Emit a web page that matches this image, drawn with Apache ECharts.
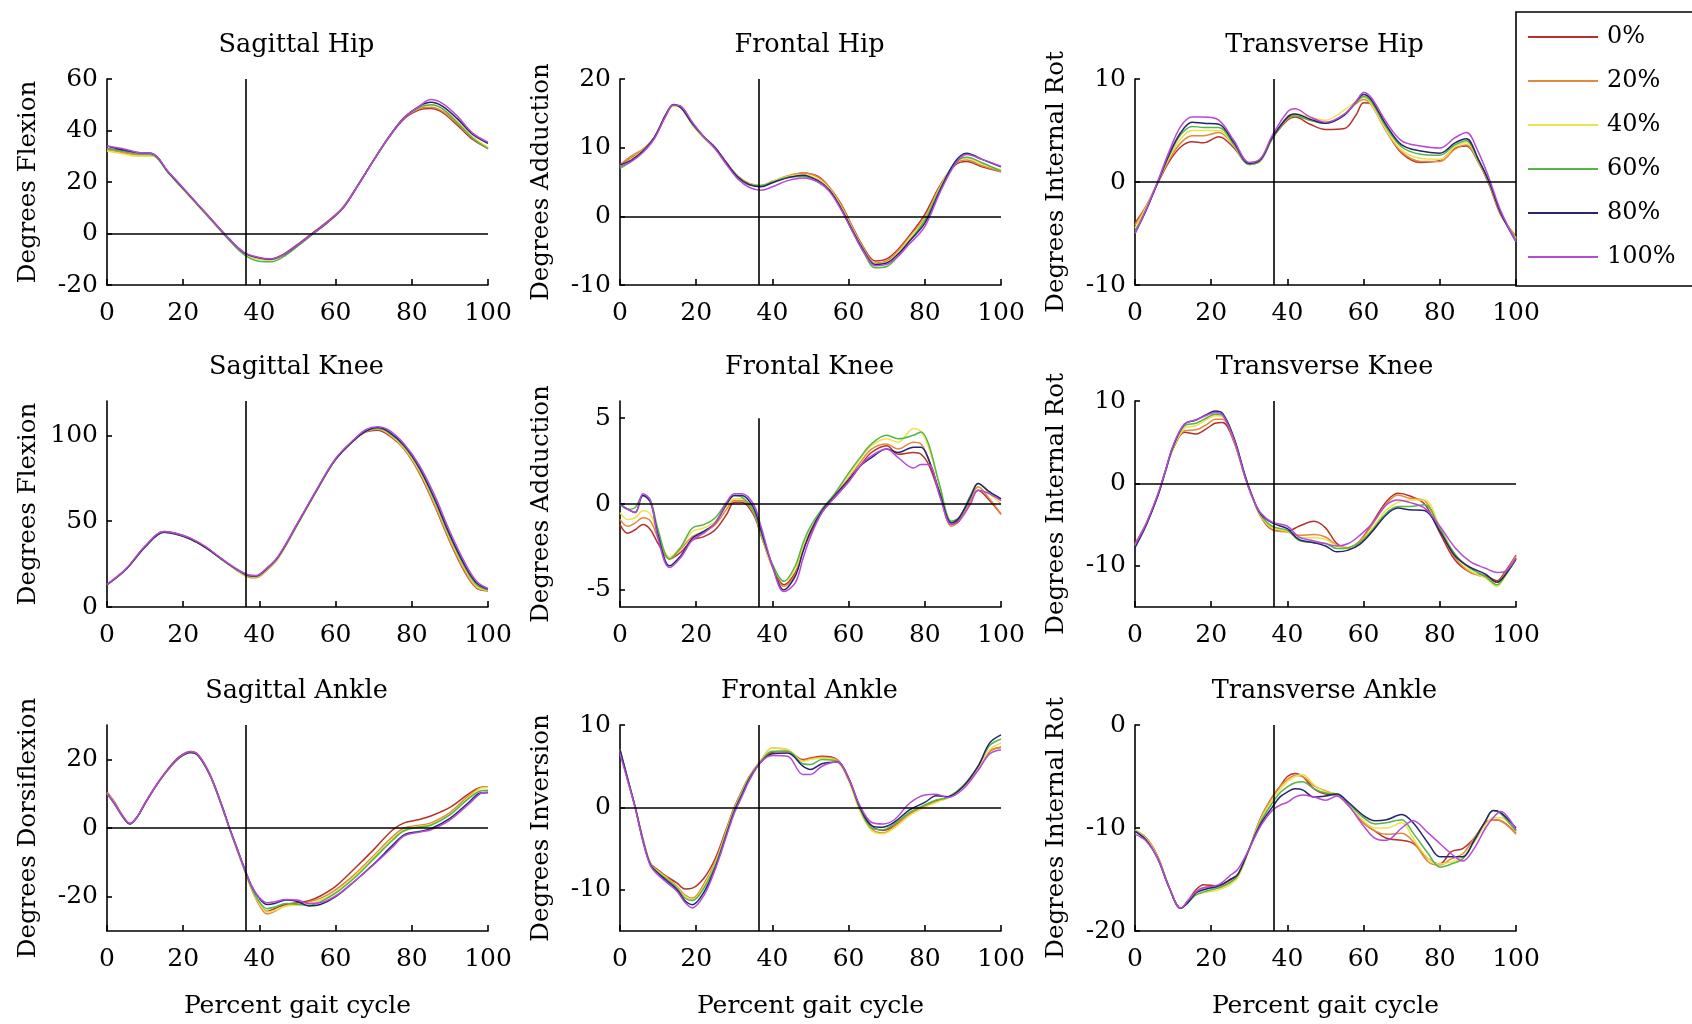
<!DOCTYPE html>
<html><head><meta charset="utf-8">
<script src="https://cdn.jsdelivr.net/npm/echarts@6/dist/echarts.min.js"></script>
<style>html,body{margin:0;padding:0;background:#fff}#c{width:1692px;height:1024px}</style>
</head><body><div id="c"></div>
<script>
// ---------- DATA ----------
const seriesNames = ['0%','20%','40%','60%','80%','100%'];
const stanceEnd = 36.3;
const xTicks = [0,20,40,60,80,100];

// Sagittal Hip
const shX = [0,4,8,12,16,20,24,28,32,36,40,43,46,50,54,58,62,66,70,74,78,82,85,88,92,96,100];
const sh0 = [33,32,31,30.5,24,17.5,11,4.5,-2,-7.5,-9.6,-10,-8.3,-4.2,0.3,4.8,10.3,19.2,28.5,37.3,44.5,48,48.5,47,42,36.5,33];
const sh20 = [32.5,31.5,30.5,30.5,23.8,17.2,10.7,4.2,-2.2,-7.6,-9.8,-10.2,-8.6,-4.5,0,4.6,10.2,19,28.5,37.5,44.8,48.5,49,47.5,42.5,37,33];
const sh40 = [32,31,30,30,23.5,17,10.5,4,-2.3,-7.8,-10,-10.3,-8.8,-4.8,-0.2,4.3,10,19,28.5,37.5,45,49,50,48.5,43.5,37.5,33.5];
const sh60 = [33,32,31,30.5,23.8,17.3,10.8,4.2,-2.5,-8.2,-10.8,-11,-9.3,-5,-0.3,4.3,10,19,28.5,37.5,45,49,50,48.5,43,37,33];
const sh80 = [34,32.5,31.5,31,24,17.5,11,4.5,-2,-7.5,-9.5,-10,-8.5,-4.5,0,4.5,10,19,28.5,37.5,45,49.5,51,49.5,44.5,38.5,35];
const sh100 = [34,33,31.5,31,24.2,17.7,11,4.5,-2,-7.3,-9.3,-9.8,-8.5,-4.5,0,4.5,10,19,28.5,37.5,45,49.5,52,50.5,45.5,39,35.5];
const shTicks = [-20,0,20,40,60];

// Frontal Hip
const fhX = [0,3,6,9,12,14,16,19,22,25,28,31,34,37,40,44,48,52,55,58,61,64,67,70,73,76,80,84,88,91,95,100];
const fh0 = [7.5,8.5,9.7,11.5,14.7,16.2,16,13.6,11.6,10,7.8,5.8,4.7,4.4,5,5.8,6.3,5.8,4.2,1.8,-1.5,-4.6,-6.5,-6.2,-4.8,-2.8,0.3,4.5,7.5,8,7.2,6.5];
const fh20 = [7.5,8.8,9.8,11.5,14.6,16.1,15.9,13.5,11.5,9.9,7.7,5.8,4.8,4.5,5.1,5.9,6.3,5.7,4.2,1.7,-1.6,-4.7,-6.8,-6.5,-5,-3,-0.2,4.4,7.7,8.2,7.4,6.5];
const fh40 = [7.3,8.4,9.6,11.4,14.6,16.1,15.8,13.3,11.4,9.8,7.6,5.7,4.7,4.5,5.1,5.8,6.1,5.4,4,1.4,-1.8,-4.9,-6.9,-6.7,-5.3,-3.2,-0.4,4.2,7.8,8.5,7.6,6.8];
const fh60 = [7,8,9.4,11.4,14.7,16.2,15.8,13.4,11.5,9.9,7.6,5.6,4.6,4.5,5,5.7,5.8,5,3.7,1.1,-2.2,-5.3,-7.5,-7.3,-5.8,-3.6,-0.6,4,7.8,8.6,7.8,6.6];
const fh80 = [7.5,8.2,9.5,11.5,14.8,16.3,15.8,13.5,11.6,10,7.7,5.7,4.6,4.3,4.9,5.6,6,5.2,3.8,1.2,-2,-5,-7,-6.8,-5.5,-3.6,-1,3.8,8,9.2,8.3,7.2];
const fh100 = [7.3,8,9.3,11.3,14.6,16.2,16,13.7,11.6,9.8,7.5,5.4,4.2,3.8,4.3,5.2,5.6,5,3.6,1,-2.2,-5.2,-7.2,-7,-5.8,-4,-1.5,3.5,7.6,9,8.3,7.3];
const fhTicks = [-10,0,10,20];

// Transverse Hip
const thX = [0,3,6,9,12,15,18,22,26,30,33,36,40,42,46,50,55,58,60,62,66,70,75,80,84,87,90,93,96,100];
const th0 = [-4,-2.3,-0.1,2,3.4,3.9,3.8,4.4,3.3,1.7,2.1,4.2,6,6.3,5.6,5.1,5.2,6.5,7.7,7.6,5,2.8,1.9,2.1,3.3,3.5,2,-0.3,-3.2,-5.3];
const th20 = [-4.2,-2.3,0,2.2,3.8,4.5,4.5,4.8,3.5,1.7,2.1,4.2,6.1,6.4,6,5.7,6.6,7.6,8,7.5,4.9,2.9,2,2,3.2,3.6,2,-0.2,-3.1,-5.4];
const th40 = [-4.5,-2.4,0,2.4,4.2,5,5,5,3.5,1.7,2.1,4.2,6.3,6.6,6.3,6,7,7.8,8.2,7.6,5,3.1,2.3,2.2,3.4,3.8,2.1,-0.1,-3,-5.5];
const th60 = [-4.8,-2.6,0,2.6,4.6,5.4,5.3,5.3,3.6,1.7,2.1,4.2,6.2,6.4,6,5.7,6.6,7.7,8.3,7.8,5.3,3.4,2.7,2.6,3.6,4,2.2,-0.1,-3,-5.6];
const th80 = [-5,-2.7,0,2.7,4.8,5.8,5.7,5.6,3.8,1.8,2.2,4.3,6.3,6.6,6.1,5.7,6.5,7.8,8.5,8,5.5,3.6,3,2.8,3.8,4.2,2.3,0,-3,-5.8];
const th100 = [-5,-2.6,0.1,3,5.4,6.3,6.3,6,4,1.9,2.3,4.5,6.8,7.1,6.3,5.8,6.6,7.8,8.7,8.2,5.8,4,3.5,3.3,4.3,4.8,3,0.3,-2.8,-5.8];
const thTicks = [-10,0,10];

// Sagittal Knee
const skX = [0,5,10,15,18,22,26,30,34,37,39,42,45,50,55,60,65,68,71,74,78,82,86,90,94,97,100];
const sk0 = [13,22.2,35.3,44,43,40,34.8,28,21.8,18.3,17.8,22.3,29.3,48.5,68,86.3,97.5,102,103,100,92,78,59,38,20,11,9.5];
const sk20 = [13,22,35,43.7,42.7,39.5,34.5,27.8,21.4,17.5,17,21.5,28.5,47.8,67.5,86,97.5,102.3,103.5,100.5,92,78.5,59.5,38.5,20.5,11.3,9.5];
const sk40 = [13,22,35,43.5,42.5,39.5,34.5,28,21.6,18,17.5,22,29,48,67.5,85.8,97.3,102.3,103.8,101,92.8,79.5,61,40,22,12,9.8];
const sk60 = [13,22,35,43.5,42.5,39.5,34.5,28,21.8,18.2,17.8,22.3,29.3,48.3,67.8,86,97.5,102.5,104,101.5,93.5,80.5,62,41,23,13,10];
const sk80 = [13,22,35,43.5,42.5,39.5,34.5,28,22,18.5,18,22.5,29.5,48.5,68,86,97.5,102.5,104.5,102,94,81,63,42,24,14,10.5];
const sk100 = [13.2,22.3,35.5,44,43,40,35,28.3,22.2,18.8,18.3,22.8,29.8,48.8,68.3,86.5,98,103.5,105,103,95,82.5,65,44,25.5,15,10.8];
const skTicks = [0,50,100];

// Frontal Knee
const fkX = [0,2,4,6,8,10,13,16,19,22,25,28,30,32,35,37,40,43,46,48,50,53,56,60,63,66,70,73,77,79,81,84,87,89,92,94,97,100];
const fk0 = [-1.2,-1.7,-1.5,-1.2,-1.5,-2.3,-3.2,-2.8,-2.1,-1.9,-1.5,-0.6,0.1,0.1,-0.6,-1.8,-3.6,-4.7,-4.0,-2.7,-1.7,-0.5,0.3,1.3,2.2,3.0,3.4,2.9,3.0,2.9,2.3,0.5,-1.2,-0.9,0.2,0.8,0.2,-0.6];
const fk20 = [-0.9,-1.3,-1.1,-0.8,-1.0,-2.0,-3.2,-2.6,-1.9,-1.6,-1.2,-0.3,0.2,0.2,-0.5,-1.8,-3.7,-4.8,-4.1,-2.7,-1.6,-0.4,0.4,1.5,2.4,3.2,3.5,3.2,3.6,3.5,2.6,0.6,-1.3,-1.0,0.2,1.0,0.3,-0.6];
const fk40 = [-0.5,-0.9,-0.8,-0.4,-0.6,-1.8,-3.1,-2.5,-1.6,-1.4,-1.0,-0.1,0.3,0.3,-0.4,-1.7,-3.6,-4.5,-3.8,-2.5,-1.5,-0.3,0.5,1.7,2.6,3.4,3.8,3.6,4.4,4.2,3.3,1.0,-1.0,-0.8,0.4,1.2,0.6,0.0];
const fk60 = [0,-0.3,-0.2,0.5,0.2,-1.5,-3.2,-2.5,-1.4,-1.2,-0.8,0.1,0.5,0.4,-0.4,-1.7,-3.5,-4.5,-3.6,-2.3,-1.3,-0.3,0.5,1.8,2.7,3.5,4.0,3.8,4.0,4.2,3.5,1.0,-1.0,-0.8,0.5,1.2,0.7,0.3];
const fk80 = [0,-0.3,-0.5,0.5,0.1,-1.8,-3.6,-3.0,-2.0,-1.6,-1.1,0.0,0.5,0.5,-0.2,-1.5,-3.6,-5.0,-4.2,-2.8,-1.6,-0.4,0.4,1.4,2.2,2.7,3.2,3.0,3.3,3.3,2.6,0.6,-1.1,-0.8,0.4,1.2,0.7,0.3];
const fk100 = [0,-0.3,-0.5,0.6,0.2,-2.0,-3.7,-3.1,-2.1,-1.7,-1.1,0.1,0.6,0.6,0.0,-1.3,-3.6,-5.1,-4.6,-3.2,-1.9,-0.5,0.3,1.3,2.2,2.8,3.2,2.7,2.1,2.3,2.3,0.4,-1.2,-1.0,0.0,0.8,0.6,0.2];
const fkTicks = [-5,0,5];

// Transverse Knee
const tkX = [0,3,6,8,10,13,16,19,21,23,26,29,31,33,36,40,43,47,50,53,56,59,62,66,69,72,76,80,84,88,92,95,97,100];
const tk0 = [-7.3,-4.8,-1.4,1.5,4.2,6.2,6,6.7,7.3,7.4,5,0.6,-1.9,-4,-5.6,-5.8,-5.2,-4.6,-5.4,-7.3,-7.9,-7,-5,-2.2,-1.2,-1.5,-2.5,-6,-9.3,-10.8,-11.2,-11.8,-10.8,-8.7];
const tk20 = [-7.4,-4.8,-1.4,1.5,4.2,6.4,6.5,7.2,7.8,7.8,5.1,0.6,-1.9,-4,-5.6,-5.9,-6.3,-6.2,-6.5,-7.5,-7.8,-7,-5.2,-2.5,-1.4,-1.8,-2.1,-5.5,-9,-10.8,-11.4,-12,-11,-8.8];
const tk40 = [-7.5,-4.9,-1.4,1.5,4.3,6.7,7,7.8,8.2,8.1,5.3,0.7,-1.9,-3.9,-5.4,-5.8,-6.6,-6.6,-6.8,-7.6,-7.8,-7.2,-5.6,-3.2,-2.3,-2,-2,-5.2,-8.6,-10.6,-11.5,-12.5,-11.4,-9];
const tk60 = [-7.6,-4.9,-1.4,1.5,4.4,7,7.3,8,8.4,8.3,5.4,0.7,-1.9,-3.8,-5.2,-5.7,-6.9,-7.2,-7.3,-7.9,-7.8,-7.2,-5.8,-3.6,-2.8,-2.8,-2.6,-5.5,-8.6,-10.3,-11.3,-12.3,-11.3,-9.2];
const tk80 = [-7.8,-5,-1.5,1.5,4.5,7.2,7.7,8.4,8.8,8.5,5.5,0.8,-1.8,-3.7,-4.8,-5.5,-6.8,-7.2,-7.6,-8.3,-8.1,-7.4,-6,-3.8,-3,-3.2,-3.3,-5.8,-8.8,-10.2,-11,-12,-11.2,-9.2];
const tk100 = [-7.5,-4.8,-1.3,1.6,4.6,7.2,7.7,8.3,8.6,8.3,5.3,0.6,-1.9,-3.6,-4.7,-5.2,-6.5,-7,-7.3,-7.6,-7.3,-6.3,-5,-2.6,-2,-2.3,-3,-5.2,-7.8,-9.5,-10.3,-10.8,-10.7,-9];
const tkTicks = [-10,0,10];

// Sagittal Ankle
const saX = [0,2,4,6,8,10,13,16,19,22,24,27,30,32,34,36,38,40,42,44,47,50,53,56,60,65,70,75,78,82,85,90,95,98,100];
const sa0 = [10.5,7.5,3.8,1.3,3.4,7.3,12.6,17.2,20.8,22.3,21.3,15.6,7,0.4,-5.8,-11.8,-17.6,-22,-24.3,-23.5,-22.2,-21.8,-21.2,-19.8,-17,-11.8,-6.3,-0.5,1.5,2.5,3.5,6,10,11.8,12];
const sa20 = [10.3,7.3,3.7,1.3,3.4,7.2,12.5,17,20.5,22.1,21.1,15.4,6.8,0.2,-6,-12.1,-18,-22.5,-25,-24.3,-22.6,-22.3,-21.5,-20.5,-18,-13.5,-8,-2.5,0,0.8,1.5,4.5,9.5,11.7,12];
const sa40 = [10.2,7.2,3.6,1.2,3.3,7.1,12.4,16.9,20.4,22,21,15.3,6.7,0.2,-6,-12,-17.8,-22,-24.5,-24,-22.8,-22.5,-22,-21,-18.7,-14,-8.5,-3,-0.5,0.5,1,4,9,11.5,11.8];
const sa60 = [10,7,3.5,1.2,3.3,7.2,12.5,17,20.5,22,21,15.4,6.8,0.3,-5.8,-11.8,-17.5,-21.5,-23.5,-23,-22,-22.2,-22.5,-21.5,-19,-14.5,-9,-3.5,-0.8,0.3,0.8,3.8,8.7,10.8,11];
const sa80 = [10,7,3.5,1.2,3.3,7.2,12.5,17,20.5,22,21,15.5,7,0.5,-5.5,-11.5,-17,-20.5,-22.3,-22,-21,-21.4,-22.7,-22.3,-20,-15.5,-10.5,-5,-2,-1,-0.2,2.8,7.5,10.2,10.3];
const sa100 = [10,7,3.5,1.3,3.4,7.3,12.6,17,20.6,22.2,21.2,15.6,7,0.4,-5.6,-11.6,-17,-20.3,-21.8,-21.5,-20.8,-21,-22,-21.8,-19.8,-15.5,-10.7,-5.5,-2.3,-1.2,-0.5,2.3,7,10,10.5];
const saTicks = [-20,0,20];

// Frontal Ankle
const faX = [0,2,4,6,8,10,12,15,17,19,22,25,28,30,32,34,37,40,44,48,50,53,57,60,63,66,69,72,76,80,83,86,90,94,97,100];
const fa0 = [6.8,3.3,0,-3.8,-6.8,-7.6,-8.3,-9.2,-9.9,-9.8,-8.6,-6.2,-2.5,0,2,3.8,5.6,6.7,6.8,5.8,6,6.2,5.8,3.6,0,-2.2,-2.8,-2.2,-0.8,0.2,0.8,1.2,2.5,4.6,6.8,7.3];
const fa20 = [6.9,3.4,0,-3.9,-6.9,-7.7,-8.4,-9.6,-10.6,-11,-9.3,-6.6,-2.7,-0.1,1.9,3.8,5.7,7.2,7,5.7,5.9,6.1,5.8,3.4,-0.3,-2.6,-3.1,-2.3,-0.8,0.2,0.7,1.2,2.5,4.6,6.8,7.3];
const fa40 = [7,3.4,0,-3.9,-6.9,-7.8,-8.5,-9.7,-10.8,-11.2,-9.6,-6.8,-2.8,-0.2,1.8,3.7,5.7,7.2,7,5.6,5.8,6,5.6,3.2,-0.5,-2.8,-3.2,-2.5,-1,0,0.6,1.2,2.6,4.8,7,7.8];
const fa60 = [7,3.5,0,-3.9,-6.9,-7.9,-8.6,-9.8,-11,-11.3,-9.8,-7,-3,-0.3,1.7,3.6,5.6,6.8,6.8,5.3,5.2,5.8,5.6,3.5,-0.2,-2.5,-2.7,-2,-0.6,0.3,0.9,1.2,2.6,5,7.5,8.3];
const fa80 = [7,3.5,0,-4,-7,-8,-8.8,-10,-11.3,-11.8,-10.3,-7.3,-3.2,-0.5,1.5,3.5,5.5,6.5,6.6,5,4.6,5.3,5.5,3.5,0,-2.2,-2.4,-1.8,-0.3,0.6,1.4,1.3,2.5,5,7.8,8.8];
const fa100 = [6.5,3.3,-0.1,-4.1,-7.1,-8.2,-9,-10.2,-11.5,-12.2,-10.7,-7.5,-3.4,-0.7,1.3,3.3,5.5,6.3,6.2,4,4,5,5.5,3.5,0.2,-1.8,-2,-1.5,0.5,1.5,1.6,1.2,2.2,4.5,6.5,7];
const faTicks = [-10,0,10];

// Transverse Ankle
const taX = [0,3,6,9,12,14,16,18,22,25,27,30,33,36,38,40,42,44,47,50,53,56,60,63,66,70,73,77,80,83,86,89,92,94,96,100];
const ta0 = [-10.2,-11,-12.8,-15.8,-17.8,-17,-16,-15.5,-15.6,-15,-14.5,-12,-9,-7,-6,-5,-4.7,-5,-6.2,-6.7,-6.8,-7.8,-9.5,-10.3,-11,-11.2,-11.5,-13,-13.5,-12.3,-12,-11,-9.5,-9.2,-9.3,-10.5];
const ta20 = [-10.2,-11,-12.8,-15.8,-17.8,-17.1,-16.2,-15.8,-15.8,-15.2,-14.7,-12,-9,-7,-6,-5.3,-4.9,-5,-5.9,-6.4,-6.8,-7.8,-9.5,-10.3,-10.6,-10.5,-11.3,-13.3,-13.6,-13,-12.5,-11,-9.5,-9.2,-9.3,-10.6];
const ta40 = [-10.2,-11.1,-12.9,-15.8,-17.8,-17.2,-16.5,-16.3,-16,-15.5,-14.8,-12.1,-9.2,-7.3,-6.3,-5.5,-5,-4.8,-5.8,-6.5,-6.7,-7.7,-9.3,-10,-10,-9.5,-11,-13,-13.5,-13.3,-12.8,-11.4,-9.7,-9,-9,-10.4];
const ta60 = [-10.3,-11.2,-13,-15.8,-17.8,-17.2,-16.5,-16.2,-15.8,-15.3,-14.6,-12,-9.4,-7.6,-6.6,-6,-5.6,-5.5,-6.2,-6.6,-6.7,-7.6,-9,-9.6,-9.5,-9.2,-10.5,-12.5,-13.8,-13.5,-13,-11.3,-9.3,-8.3,-8.6,-10.3];
const ta80 = [-10.3,-11.2,-13,-15.8,-17.8,-17.2,-16.3,-16,-15.6,-15,-14.5,-12,-9.6,-8,-7,-6.5,-6.2,-6.3,-7,-6.9,-6.7,-7.5,-8.8,-9.3,-9.2,-8.7,-9.5,-11.5,-12.8,-12.8,-12.8,-11.2,-9.3,-8.3,-8.5,-10];
const ta100 = [-10.6,-11.3,-13,-15.8,-17.8,-17,-16.2,-15.8,-15.5,-14.6,-14,-12,-9.8,-8.3,-7.8,-7.5,-7,-6.8,-7,-7.3,-6.9,-7.8,-9.8,-11,-11.2,-10,-9.3,-10.5,-11.5,-12.5,-13.2,-12,-10,-9,-8.4,-10.2];
const taTicks = [-20,-10,0];

// ---------- CHART ----------
const FONT = "'DejaVu Serif', serif";
const FS_TITLE = 25.5, FS_TICK = 25, FS_NAME = 24.5, FS_LEG = 24;
const COLORS = ['#b5322c','#e08a3c','#eee24c','#52b649','#27256f','#b64ad8'];

const panels = [
  {title:'Sagittal Hip', yName:'Degrees Flexion', yMin:-20, yMax:60, ticks:shTicks, x:shX, ys:[sh0,sh20,sh40,sh60,sh80,sh100]},
  {title:'Frontal Hip', yName:'Degrees Adduction', yMin:-10, yMax:20, ticks:fhTicks, x:fhX, ys:[fh0,fh20,fh40,fh60,fh80,fh100]},
  {title:'Transverse Hip', yName:'Degrees Internal Rot', yMin:-10, yMax:10, ticks:thTicks, x:thX, ys:[th0,th20,th40,th60,th80,th100]},
  {title:'Sagittal Knee', yName:'Degrees Flexion', yMin:0, yMax:120, ticks:skTicks, x:skX, ys:[sk0,sk20,sk40,sk60,sk80,sk100]},
  {title:'Frontal Knee', yName:'Degrees Adduction', yMin:-6, yMax:6, ticks:fkTicks, x:fkX, ys:[fk0,fk20,fk40,fk60,fk80,fk100], vTop:5},
  {title:'Transverse Knee', yName:'Degrees Internal Rot', yMin:-15, yMax:10, ticks:tkTicks, x:tkX, ys:[tk0,tk20,tk40,tk60,tk80,tk100]},
  {title:'Sagittal Ankle', yName:'Degrees Dorsiflexion', yMin:-30, yMax:30, ticks:saTicks, x:saX, ys:[sa0,sa20,sa40,sa60,sa80,sa100]},
  {title:'Frontal Ankle', yName:'Degrees Inversion', yMin:-15, yMax:10, ticks:faTicks, x:faX, ys:[fa0,fa20,fa40,fa60,fa80,fa100]},
  {title:'Transverse Ankle', yName:'Degrees Internal Rot', yMin:-20, yMax:0, ticks:taTicks, x:taX, ys:[ta0,ta20,ta40,ta60,ta80,ta100]}
];

const LEFTS = [107, 620, 1135];
const TOPS = [79, 401, 725];
const GW = 381, GH = 206;

const grids = [], xAxes = [], yAxes = [], titles = [], series = [];
panels.forEach((p, i) => {
  const col = i % 3, row = Math.floor(i / 3);
  grids.push({left: LEFTS[col], top: TOPS[row], width: GW, height: GH, containLabel: false});
  titles.push({text: p.title, left: LEFTS[col] + GW/2 - 6, top: TOPS[row] - 39, textAlign: 'center', textVerticalAlign: 'middle',
    textStyle: {fontFamily: FONT, fontSize: FS_TITLE, fontWeight: 'normal', color: '#000'}});
  xAxes.push({type: 'value', gridIndex: i, min: 0, max: 100, interval: 20,
    name: row === 2 ? 'Percent gait cycle' : '', nameLocation: 'middle', nameGap: 63,
    nameTextStyle: {fontFamily: FONT, fontSize: FS_NAME + 0.5, color: '#000'},
    axisLine: {onZero: false, lineStyle: {color: '#000', width: 1.6}},
    axisTick: {inside: true, length: 6, lineStyle: {color: '#000', width: 1.6}},
    axisLabel: {fontFamily: FONT, fontSize: FS_TICK, color: '#000', margin: 16},
    splitLine: {show: false}});
  yAxes.push({type: 'value', gridIndex: i, min: p.yMin, max: p.yMax,
    name: p.yName, nameLocation: 'middle', nameGap: 66,
    nameTextStyle: {fontFamily: FONT, fontSize: FS_NAME, color: '#000'},
    axisLine: {onZero: false, lineStyle: {color: '#000', width: 1.6}},
    axisTick: {inside: true, length: 5, customValues: p.ticks, lineStyle: {color: '#000', width: 1.6}},
    axisLabel: {fontFamily: FONT, fontSize: FS_TICK, color: '#000', margin: 9, customValues: p.ticks},
    splitLine: {show: false}});
  p.ys.forEach((arr, k) => {
    const s = {name: seriesNames[k], type: 'line', xAxisIndex: i, yAxisIndex: i,
      data: p.x.map((xv, j) => [xv, arr[j]]), showSymbol: false, symbol: 'none', smooth: 0.35,
      lineStyle: {color: COLORS[k], width: 1.5}, itemStyle: {color: COLORS[k]}, silent: true, z: 3 + k};
    if (k === 0) {
      const md = [];
      if (p.yMax > 0 && p.yMin < 0) md.push({yAxis: 0});
      if (p.vTop != null) md.push([{coord: [stanceEnd, p.yMin]}, {coord: [stanceEnd, p.vTop]}]);
      else md.push({xAxis: stanceEnd});
      s.markLine = {silent: true, symbol: 'none', animation: false, label: {show: false},
        lineStyle: {color: '#000', width: 1.6, type: 'solid'}, data: md, z: 10};
    }
    series.push(s);
  });
});

const chart = echarts.init(document.getElementById('c'), null, {renderer: 'canvas'});
chart.setOption({
  backgroundColor: '#fff',
  animation: false,
  color: COLORS,
  title: titles,
  grid: grids,
  xAxis: xAxes,
  yAxis: yAxes,
  legend: {data: seriesNames, orient: 'vertical', left: 1516, top: 12, padding: [13, 200, 17, 12],
    itemWidth: 70, itemHeight: 2, itemGap: 20, icon: 'rect', selectedMode: false,
    borderColor: '#000', borderWidth: 1.6,
    textStyle: {fontFamily: FONT, fontSize: FS_LEG, color: '#000', lineHeight: 24, padding: [0, 0, 0, 4]}},
  series: series
});
</script></body></html>
